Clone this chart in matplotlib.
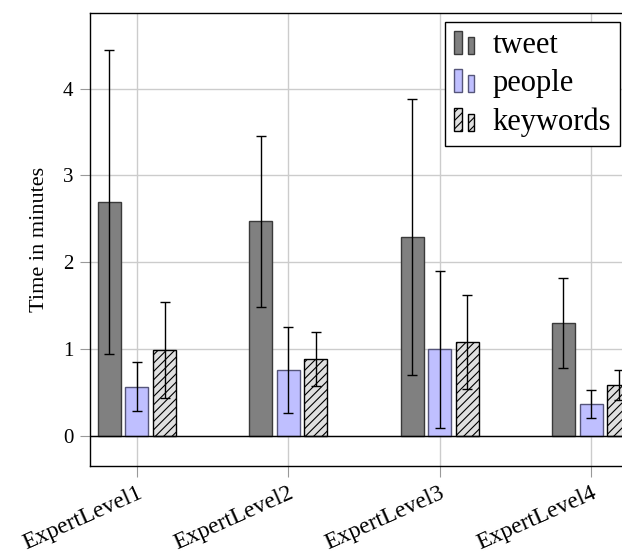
import numpy as np
import matplotlib
matplotlib.use("Agg")
import matplotlib.pyplot as plt
from matplotlib.patches import Rectangle
from matplotlib.legend_handler import HandlerBase

LEVELS = ["ExpertLevel1", "ExpertLevel2", "ExpertLevel3", "ExpertLevel4"]
TWEET = [2.69, 2.47, 2.29, 1.30]
TWEET_ERR = [1.75, 0.98, 1.59, 0.52]
PEOPLE = [0.57, 0.76, 1.00, 0.37]
PEOPLE_ERR = [0.285, 0.50, 0.905, 0.16]
KEYWORDS = [0.99, 0.89, 1.08, 0.59]
KEYWORDS_ERR = [0.55, 0.31, 0.54, 0.17]

plt.rcParams["font.family"] = ["Liberation Serif", "DejaVu Serif"]
plt.rcParams["hatch.linewidth"] = 0.8


class TwoBars(HandlerBase):
    # pgfplots style legend image: two small bars
    def create_artists(self, legend, orig, xd, yd, w, h, fontsize, trans):
        kw = dict(facecolor=orig.get_facecolor(), edgecolor=orig.get_edgecolor(),
                  hatch=orig.get_hatch(), lw=orig.get_linewidth(), transform=trans)
        r1 = Rectangle((xd, yd - 0.05 * h), 0.28 * w, 1.1 * h, **kw)
        r2 = Rectangle((xd + 0.5 * w, yd - 0.05 * h), 0.22 * w, 0.8 * h, **kw)
        return [r1, r2]


fig = plt.figure(figsize=(6.22, 5.56), dpi=100)
ax = fig.add_axes([90 / 622, 90 / 556, 548 / 622, 453 / 556])

x = np.arange(1, len(LEVELS) + 1)
off, bw = 0.182, 0.152
err_kw = dict(ecolor="black", elinewidth=1.0, capsize=3.6, capthick=1.0)

b1 = ax.bar(x - off, TWEET, bw, yerr=TWEET_ERR, color="#808080",
            edgecolor="#3a3a3a", linewidth=1.0, error_kw=err_kw, label="tweet", zorder=3)
b2 = ax.bar(x, PEOPLE, bw, yerr=PEOPLE_ERR, color="#bfbfff",
            edgecolor="#55557a", linewidth=1.0, error_kw=err_kw, label="people", zorder=3)
b3 = ax.bar(x + off, KEYWORDS, bw, yerr=KEYWORDS_ERR, color="#e0e0e0",
            edgecolor="black", hatch="////", linewidth=1.0, error_kw=err_kw,
            label="keywords", zorder=3)

ax.axhline(0, color="black", lw=1.0, zorder=4)
ax.set_xlim(1 - 47 / 151.5, 4 + 47 / 151.5)
ax.set_ylim(-0.345, 4.87)
ax.set_yticks([0, 1, 2, 3, 4])
ax.set_xticks(x)
ax.set_xticklabels(LEVELS, rotation=24, ha="right", rotation_mode="anchor", fontsize=17)
ax.tick_params(axis="y", labelsize=15, color="#999999", length=7, pad=5)
ax.tick_params(axis="x", color="#999999", length=8, pad=4)
ax.grid(True, color="#cccccc", lw=1.0, zorder=0)
ax.set_axisbelow(True)
for s in ax.spines.values():
    s.set_color("black")
    s.set_linewidth(1.0)
ax.set_ylabel("Time in minutes", fontsize=16, labelpad=10)

leg = fig.legend(handles=[b1[0], b2[0], b3[0]], labels=["tweet", "people", "keywords"],
                 handler_map={Rectangle: TwoBars()}, loc="upper right",
                 bbox_to_anchor=(620 / 622, 1 - 22 / 556), fontsize=22,
                 frameon=True, fancybox=False, framealpha=1, edgecolor="black",
                 handlelength=0.9, handletextpad=0.35, borderpad=0.3, labelspacing=0.3,
                 borderaxespad=0)
leg.get_frame().set_linewidth(1.0)

fig.savefig("out.png", dpi=100)
